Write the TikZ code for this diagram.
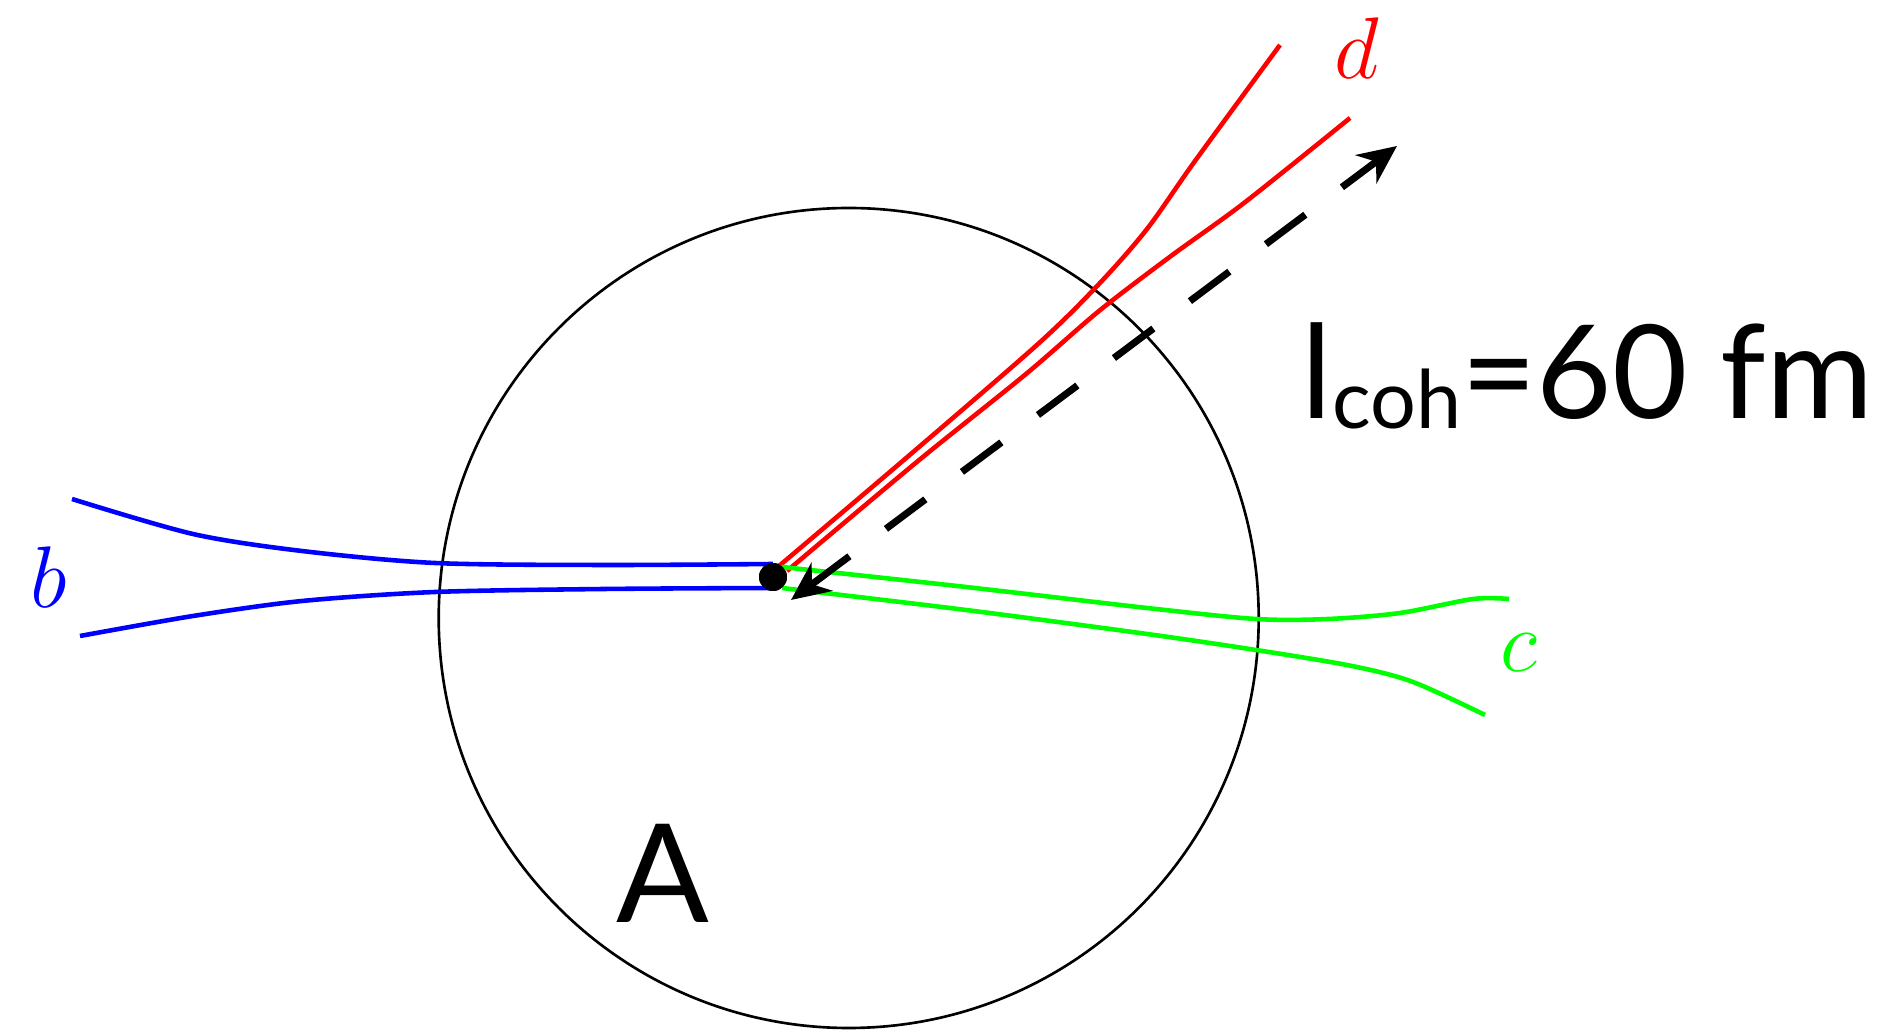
\documentclass[tikz,border=0pt]{standalone}
\usepackage{fontspec}
\setmainfont{Lato}
\usetikzlibrary{arrows.meta}
\begin{document}
\begin{tikzpicture}[x=0.01cm,y=-0.01cm,>={Stealth[length=11pt,width=10pt]},
  line/.style={line width=1.3pt},
  lbl/.style={font=\fontsize{25}{25}\selectfont}]
\useasboundingbox (0,0) rectangle (1893,1031);
\draw[line width=0.75pt](848.7,618)circle(410);
\node[circle,fill,inner sep=0pt,minimum size=28*0.01cm](v)at(773,577){};
% quark lines
\draw[line,blue]plot[smooth]coordinates{(72,499)(193,534)(302,551)(435,563)(604,565)(773,564)};
\draw[line,blue]plot[smooth]coordinates{(80,636)(193,616)(302,601)(435,592)(604,589)(773,588)};
\draw[line,red]plot[smooth]coordinates{(779,566)(905,459)(1038,344)(1099,284)(1147,229)(1195,161)(1280,45)};
\draw[line,red]plot[smooth]coordinates{(787,571)(918,461)(1026,374)(1099,311)(1171,256)(1244,203)(1350,118)};
\draw[line,green]plot[smooth]coordinates{(782,567)(966,587)(1147,608)(1256,619)(1328,619)(1400,613)(1473,599)(1509,599)};
\draw[line,green]plot[smooth]coordinates{(782,588)(966,610)(1147,634)(1256,650)(1352,666)(1413,682)(1485,715)};
\node[circle,fill,inner sep=0pt,minimum size=28*0.01cm]at(v){};
\coordinate(p)at(791,600);
\coordinate(q)at(1397,146);
\draw[<->,line width=2pt,dash pattern=on 14pt off 13pt](p)--(q);
\node[lbl,red](d)at(1357,48){$d$};
\node[lbl,blue](b)at(49,577){$b$};
\node[lbl,green](c)at(1519,653){$c$};
\node[font=\fontsize{39}{39}\selectfont](A)at(663,873){A};
\node[anchor=base west,inner sep=0pt,font=\fontsize{37}{37}\selectfont](l)at(1301,419)
  {l\raisebox{-2.7pt}{\fontsize{23}{23}\selectfont coh}=60 fm};
\end{tikzpicture}
\end{document}
